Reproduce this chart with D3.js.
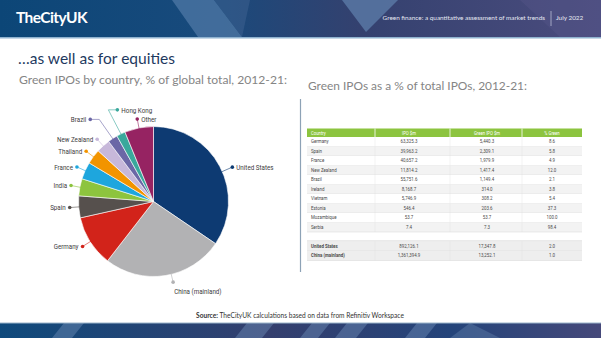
<!DOCTYPE html>
<html>
<head>
<meta charset="utf-8">
<script src="https://cdn.jsdelivr.net/npm/d3@7"></script>
<style>
  html, body { margin: 0; padding: 0; background: #ffffff; }
  svg { display: block; }
</style>
</head>
<body>
<svg id="slide" width="601" height="338"></svg>
<script>
// Share of global green IPO proceeds, 2012-21 (%)
const countries = ["United States", "China (mainland)", "Germany", "Spain", "India", "France",
                   "Thailand", "New Zealand", "Brazil", "Hong Kong", "Other"];
const shares = [34.5, 26.0, 11.0, 4.7, 3.7, 3.7, 3.2, 3.0, 2.1, 1.9, 6.2];
const sliceColors = ["#0d3a72", "#b2b2b4", "#d2231a", "#56504d", "#8dc43e", "#1ea6dd",
                     "#f29400", "#c7b8da", "#6b67a6", "#3aa89c", "#962362"];

// Table of green IPOs versus all IPOs
const tableHeader = ["Country", "IPO $m", "Green IPO $m", "% Green"];
const tableCountries = ["Germany", "Spain", "France", "New Zealand", "Brazil", "Ireland",
                        "Vietnam", "Estonia", "Mozambique", "Serbia"];
const tableIpo = ["63,325.3", "39,963.2", "40,657.2", "11,814.2", "55,751.6", "8,168.7",
                  "5,746.9", "546.4", "53.7", "7.4"];
const tableGreen = ["5,440.3", "2,309.1", "1,979.9", "1,417.4", "1,149.4", "314.0",
                    "308.2", "203.6", "53.7", "7.3"];
const tablePct = ["8.6", "5.8", "4.9", "12.0", "2.1", "3.8", "5.4", "37.3", "100.0", "98.4"];
const majorCountries = ["United States", "China (mainland)"];
const majorIpo = ["892,126.1", "1,361,394.9"];
const majorGreen = ["17,347.8", "13,252.1"];
const majorPct = ["2.0", "1.0"];

const svg = d3.select("#slide");
const W = 601, H = 338;
const defs = svg.append("defs");
const uiFont = "Lato, 'Open Sans', sans-serif";

// squeeze a text element horizontally to mimic a condensed face
function condense(sel, k) {
  sel.each(function () {
    const w = this.getComputedTextLength();
    d3.select(this).attr("textLength", w * k).attr("lengthAdjust", "spacingAndGlyphs");
  });
}

// ---------- header band ----------
const topGrad = defs.append("linearGradient").attr("id", "topGrad");
topGrad.append("stop").attr("offset", "0%").attr("stop-color", "#0c4677");
topGrad.append("stop").attr("offset", "35%").attr("stop-color", "#184a7c");
topGrad.append("stop").attr("offset", "60%").attr("stop-color", "#34416f");
topGrad.append("stop").attr("offset", "100%").attr("stop-color", "#4b4c7e");
svg.append("rect").attr("width", W).attr("height", 37).attr("fill", "url(#topGrad)");
svg.append("polygon").attr("points", "172,0 214,0 242,37 198,37")
  .attr("fill", "#4f78a6").attr("opacity", 0.75);
svg.append("polygon").attr("points", "214,0 250,0 242,37").attr("fill", "#3b5f8e").attr("opacity", 0.6);
svg.append("polygon").attr("points", "342,0 398,0 366,32").attr("fill", "#5b7aa7").attr("opacity", 0.8);
svg.append("polygon").attr("points", "520,0 601,0 601,37 560,37").attr("fill", "#5a5a8c").attr("opacity", 0.35);
svg.append("rect").attr("y", 37).attr("width", W).attr("height", 1.5).attr("fill", "#8fb2cf");

svg.append("text").attr("x", 16).attr("y", 22.5)
  .attr("font-family", uiFont).attr("font-weight", 700)
  .attr("font-size", 15.5).attr("letter-spacing", -0.6).attr("fill", "#ffffff").text("TheCityUK");
svg.append("text").attr("x", 545).attr("y", 20).attr("text-anchor", "end")
  .attr("font-family", uiFont).attr("font-size", 6.4)
  .attr("fill", "#e6e9f2").text("Green finance: a quantitative assessment of market trends");
svg.append("line").attr("x1", 551).attr("x2", 551).attr("y1", 11).attr("y2", 26)
  .attr("stroke", "#c9cde0").attr("stroke-width", 0.7);
svg.append("text").attr("x", 556).attr("y", 20)
  .attr("font-family", uiFont).attr("font-size", 6.4)
  .attr("fill", "#e6e9f2").text("July 2022");

// ---------- footer band ----------
const botGrad = defs.append("linearGradient").attr("id", "botGrad");
botGrad.append("stop").attr("offset", "0%").attr("stop-color", "#0f4a7c");
botGrad.append("stop").attr("offset", "45%").attr("stop-color", "#343f6e");
botGrad.append("stop").attr("offset", "75%").attr("stop-color", "#24447a");
botGrad.append("stop").attr("offset", "100%").attr("stop-color", "#46497a");
svg.append("rect").attr("y", 323).attr("width", W).attr("height", 15).attr("fill", "url(#botGrad)");
[[52, 72], [235, 262], [300, 318], [335, 356], [405, 425]].forEach(([a, b]) => {
  svg.append("polygon").attr("points", `${a + 12},323 ${b + 12},323 ${b},338 ${a},338`)
    .attr("fill", "#6f8fb8").attr("opacity", 0.45);
});
svg.append("polygon").attr("points", "470,323 500,338 450,338").attr("fill", "#6f8fb8").attr("opacity", 0.35);
svg.append("rect").attr("y", 322.5).attr("width", W).attr("height", 1).attr("fill", "#9cb5cc");

const footer = svg.append("text").attr("x", 300).attr("y", 318).attr("text-anchor", "middle")
  .attr("font-family", uiFont).attr("font-size", 6.6).attr("fill", "#333333");
footer.append("tspan").attr("font-weight", 700).text("Source: ");
footer.append("tspan").text("TheCityUK calculations based on data from Refinitiv Workspace");

// ---------- titles ----------
svg.append("text").attr("x", 18).attr("y", 63.5)
  .attr("font-family", uiFont).attr("font-weight", 400).attr("font-size", 16)
  .attr("fill", "#1e3a5f").attr("textLength", 157).attr("lengthAdjust", "spacingAndGlyphs")
  .text("…as well as for equities");
svg.append("text").attr("x", 19).attr("y", 84)
  .attr("font-family", uiFont).attr("font-weight", 400).attr("font-size", 12.2)
  .attr("fill", "#858585").attr("textLength", 268).attr("lengthAdjust", "spacingAndGlyphs")
  .text("Green IPOs by country, % of global total, 2012-21:");
svg.append("text").attr("x", 308).attr("y", 90)
  .attr("font-family", uiFont).attr("font-weight", 400).attr("font-size", 12.2)
  .attr("fill", "#858585").attr("textLength", 219).attr("lengthAdjust", "spacingAndGlyphs")
  .text("Green IPOs as a % of total IPOs, 2012-21:");

// divider
svg.append("line").attr("x1", 300.5).attr("x2", 300.5).attr("y1", 99).attr("y2", 272)
  .attr("stroke", "#8da2b6").attr("stroke-width", 1.2);

// ---------- pie ----------
const cx = 153.5, cy = 201.5, R = 75;
const pieData = countries.map((c, i) => ({ name: c, value: shares[i], color: sliceColors[i] }));
const arcs = d3.pie().sort(null).value(d => d.value)(pieData);
const arcGen = d3.arc().innerRadius(0).outerRadius(R);
const g = svg.append("g").attr("transform", `translate(${cx},${cy})`);
g.selectAll("path").data(arcs).join("path")
  .attr("d", arcGen).attr("fill", d => d.data.color)
  .attr("stroke", "#ffffff").attr("stroke-width", 0.6);

// label leader geometry: radial stub, optional elbow lifted above the slice
const polar = (a, r) => [Math.sin(a) * r, -Math.cos(a) * r];
const labelRules = {
  "Brazil":    { lift: [-14, -20], run: -9, side: "left" },
  "Hong Kong": { lift: [-13, -25], run: 9, side: "right" },
  "Other":     { stub: 9, side: "right" },
  "United States": { stub: 11, side: "right", at: 0.535 },
  "China (mainland)": { stub: 8, side: "below", at: 0.45 }
};
const labels = svg.append("g").attr("transform", `translate(${cx},${cy})`);
arcs.forEach(a => {
  const rule = labelRules[a.data.name] || { stub: 9, side: "left" };
  const f = rule.at ?? 0.5;
  const mid = a.startAngle + f * (a.endAngle - a.startAngle);
  const edge = polar(mid, R - 1);
  let pts, dot;
  if (rule.lift) {
    const knee = [edge[0] + rule.lift[0], edge[1] + rule.lift[1]];
    dot = [knee[0] + rule.run, knee[1]];
    pts = [edge, knee, dot];
  } else {
    dot = polar(mid, R + rule.stub);
    pts = [edge, dot];
  }
  labels.append("path").attr("d", d3.line()(pts)).attr("fill", "none")
    .attr("stroke", a.data.color).attr("stroke-width", 0.6);
  labels.append("circle").attr("cx", dot[0]).attr("cy", dot[1]).attr("r", 1.8).attr("fill", a.data.color);
  const t = labels.append("text").attr("font-family", "Roboto, 'Noto Sans', sans-serif")
    .attr("font-size", 7.8).attr("fill", "#3d3d3d").text(a.data.name);
  if (rule.side === "left") {
    t.attr("x", dot[0] - 4).attr("y", dot[1] + 2.8).attr("text-anchor", "end");
  } else if (rule.side === "right") {
    t.attr("x", dot[0] + 4).attr("y", dot[1] + 2.8);
  } else {
    t.attr("x", dot[0] + 1).attr("y", dot[1] + 11.5);
  }
  condense(t, 0.8);
});

// ---------- table ----------
const tx0 = 307, tx1 = 582;
const colEdges = [307, 375, 450, 522, 582];
const colX = d3.scaleOrdinal().domain(tableHeader).range([311, 409, 487, 552]);
const colAnchor = ["start", "middle", "middle", "middle"];
const headTop = 128.5, headH = 8.5, rowH = 9.5, gap = 9.5;
const tfont = "Roboto, 'Noto Sans', sans-serif";
const table = svg.append("g");

table.append("rect").attr("x", tx0).attr("y", headTop).attr("width", tx1 - tx0).attr("height", headH)
  .attr("fill", "#8cc43f");
colEdges.slice(1, -1).forEach(x => table.append("line").attr("x1", x).attr("x2", x)
  .attr("y1", headTop).attr("y2", headTop + headH).attr("stroke", "#ffffff").attr("stroke-width", 0.8));
tableHeader.forEach((h, j) => table.append("text").attr("x", colX(h)).attr("y", headTop + 6)
  .attr("text-anchor", colAnchor[j]).attr("font-family", tfont).attr("font-size", 5)
  .attr("fill", "#ffffff").text(h).call(condense, 0.85));

function drawRows(names, ipo, green, pct, top, bold) {
  names.forEach((n, i) => {
    const y = top + i * rowH;
    table.append("rect").attr("x", tx0).attr("y", y).attr("width", tx1 - tx0).attr("height", rowH)
      .attr("fill", bold ? "#eeeeee" : (i % 2 ? "#f3f3f3" : "#ffffff"));
    table.append("line").attr("x1", tx0).attr("x2", tx1).attr("y1", y + rowH).attr("y2", y + rowH)
      .attr("stroke", "#d6d6d6").attr("stroke-width", 0.5);
    colEdges.slice(1, -1).forEach(x => table.append("line").attr("x1", x).attr("x2", x)
      .attr("y1", y).attr("y2", y + rowH).attr("stroke", "#dddddd").attr("stroke-width", 0.4));
    [n, ipo[i], green[i], pct[i]].forEach((v, j) => table.append("text")
      .attr("x", colX(tableHeader[j])).attr("y", y + 6.4).attr("text-anchor", colAnchor[j])
      .attr("font-family", tfont).attr("font-size", 5.2).attr("font-weight", bold && j === 0 ? 700 : 400)
      .attr("fill", "#4a4a4a").text(v).call(condense, 0.85));
  });
}
const bodyTop = headTop + headH;
drawRows(tableCountries, tableIpo, tableGreen, tablePct, bodyTop, false);
const majorTop = bodyTop + tableCountries.length * rowH + gap;
table.append("line").attr("x1", tx0).attr("x2", tx1).attr("y1", majorTop - 0.5).attr("y2", majorTop - 0.5)
  .attr("stroke", "#bbbbbb").attr("stroke-width", 0.6);
drawRows(majorCountries, majorIpo, majorGreen, majorPct, majorTop, true);
</script>
</body>
</html>
